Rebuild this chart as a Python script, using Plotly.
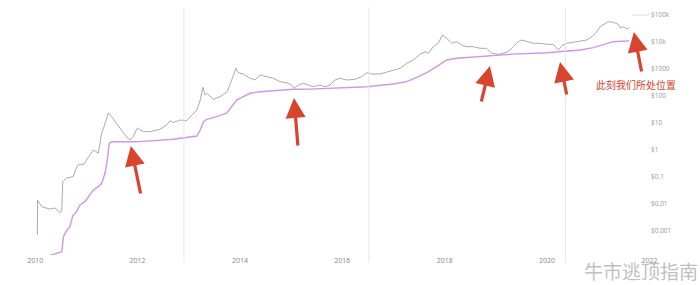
import math
import plotly.graph_objects as go

# ---- data ----
price_dates = [
    "2010-01-17", "2010-01-18", "2010-02-17", "2010-04-17", "2010-05-23", "2010-06-28",
    "2010-07-10", "2010-07-17", "2010-08-14", "2010-09-30", "2010-10-24", "2010-11-17",
    "2010-12-10", "2011-01-27", "2011-02-20", "2011-03-28", "2011-04-21", "2011-05-08",
    "2011-06-08", "2011-07-01", "2011-08-06", "2011-08-29", "2011-10-04", "2011-11-08",
    "2011-12-02", "2011-12-31", "2012-02-12", "2012-04-01", "2012-06-09", "2012-07-27",
    "2012-08-20", "2012-09-13", "2012-10-31", "2012-12-18", "2013-01-23", "2013-02-28",
    "2013-03-24", "2013-04-12", "2013-04-28", "2013-05-10", "2013-06-26", "2013-08-12",
    "2013-10-03", "2013-10-27", "2013-11-15", "2013-12-04", "2013-12-20", "2014-01-25",
    "2014-03-02", "2014-04-19", "2014-05-24", "2014-07-11", "2014-08-27", "2014-10-14",
    "2014-12-01", "2015-01-06", "2015-01-22", "2015-02-22", "2015-03-29", "2015-05-04",
    "2015-06-09", "2015-07-26", "2015-08-31", "2015-10-06", "2015-11-10", "2015-12-16",
    "2016-02-02", "2016-04-01", "2016-05-19", "2016-06-24", "2016-07-29", "2016-09-26",
    "2016-11-24", "2016-12-31", "2017-02-17", "2017-04-06", "2017-05-22", "2017-07-09",
    "2017-08-14", "2017-09-06", "2017-10-12", "2017-11-16", "2017-12-17", "2018-01-15",
    "2018-02-20", "2018-03-27", "2018-05-02", "2018-06-08", "2018-07-25", "2018-09-10",
    "2018-10-27", "2018-12-02", "2019-01-07", "2019-01-18", "2019-02-23", "2019-03-29",
    "2019-05-05", "2019-06-10", "2019-07-04", "2019-08-09", "2019-09-25", "2019-11-12",
    "2019-12-30", "2020-02-15", "2020-03-11", "2020-03-22", "2020-04-16", "2020-05-21",
    "2020-07-07", "2020-08-24", "2020-10-11", "2020-11-16", "2020-12-22", "2021-01-14",
    "2021-02-11", "2021-03-13", "2021-04-18", "2021-05-24", "2021-06-05", "2021-06-28",
    "2021-07-23", "2021-08-10",
]
price_values = [
    0.00071, 0.0141, 0.0079, 0.0065, 0.0071, 0.0048,
    0.0060, 0.067, 0.092, 0.103, 0.24, 0.30,
    0.28, 0.65, 1.0, 0.77, 4.3, 7.3,
    24, 17, 10, 6.5, 3.6, 2.35,
    3.1, 6.5, 4.8, 4.8, 5.8, 8.4,
    12.2, 10.3, 12.9, 12.2, 19.8, 30,
    71, 210, 109, 126, 75, 94,
    144, 295, 519, 1061, 729, 653,
    493, 391, 600, 519, 453, 339,
    311, 255, 193, 255, 295, 255,
    221, 255, 221, 255, 391, 453,
    391, 415, 519, 729, 653, 653,
    794, 918, 1061, 1626, 2154, 3500,
    4374, 3812, 6700, 8950, 18160, 13700,
    8950, 10260, 7740, 6700, 6700, 5850,
    5850, 3812, 3594, 3500, 3812, 4374,
    6700, 10260, 11860, 10260, 8950, 8950,
    8220, 8220, 5850, 5060, 7290, 8950,
    9750, 10900, 11860, 15700, 24050, 36900,
    45300, 56500, 53700, 45300, 33900, 36900,
    30300, 33900,
]

floor_dates = [
    "2010-04-12", "2010-07-10", "2010-07-22", "2010-08-09", "2010-09-06", "2010-09-26",
    "2010-10-24", "2010-11-17", "2010-12-22", "2011-01-27", "2011-02-20", "2011-03-28",
    "2011-04-21", "2011-05-14", "2011-05-31", "2011-06-14", "2011-07-01", "2011-11-08",
    "2012-01-19", "2012-09-13", "2013-01-10", "2013-02-28", "2013-03-24", "2013-04-16",
    "2013-05-10", "2013-07-19", "2013-09-28", "2013-11-15", "2013-12-09", "2014-01-25",
    "2014-03-14", "2014-05-24", "2014-10-14", "2015-01-17", "2015-05-16", "2015-10-28",
    "2016-06-24", "2016-12-31", "2017-04-06", "2017-06-16", "2017-08-26", "2017-11-05",
    "2018-01-15", "2018-03-27", "2018-08-17", "2018-12-14", "2019-01-30", "2019-05-05",
    "2019-12-30", "2020-04-26", "2020-08-24", "2020-11-26", "2021-02-06", "2021-04-18",
    "2021-07-23", "2021-08-10",
]
floor_values = [
    0.000122, 0.000171, 0.000615, 0.00094, 0.00144, 0.0036,
    0.0052, 0.0092, 0.0122, 0.0215, 0.033, 0.0437,
    0.0585, 0.137, 0.426, 1.77, 2.03, 2.03,
    2.05, 2.49, 2.95, 3.3, 5.5, 11.2,
    13.7, 17.1, 22.9, 46, 71, 94,
    126, 144, 167, 177, 180, 193,
    221, 278, 339, 493, 729, 1216,
    2154, 2490, 2855, 3300, 3450, 3550,
    4015, 4374, 5060, 6150, 8220, 10260,
    10900, 11200,
]

halving_dates = ["2012-11-28", "2016-07-09", "2020-05-11"]

x_tick_vals = ["2010-01-01", "2012-01-01", "2014-01-01", "2016-01-01",
               "2018-01-01", "2020-01-01", "2022-01-01"]
x_tick_text = ["2010", "2012", "2014", "2016", "2018", "2020", "2022"]

y_tick_vals = [1e-4, 1e-3, 1e-2, 1e-1, 1, 10, 100, 1000, 1e4, 1e5]
y_tick_text = ["$0.0001", "$0.001", "$0.01", "$0.1", "$1", "$10", "$100",
               "$1000", "$10k", "$100k"]

# arrow tips (date, price) and tail offsets in pixels
arrow_dates = ["2011-11-15", "2015-01-22", "2018-11-20", "2020-04-03", "2021-09-12"]
arrow_prices = [1.41, 84.3, 1291, 1816, 23440]
arrow_dx = [10, 4, -9, 7, 8]
arrow_dy = [49, 49, 37, 34, 41]

note_text = "此刻我们所处位置"
watermark_text = "牛市逃顶指南"

# ---- figure ----
y_min, y_max = -3.889, 5.370
fig = go.Figure()

fig.add_trace(go.Scatter(
    x=price_dates, y=price_values, mode="lines",
    line=dict(color="#ababab", width=1), hoverinfo="skip", showlegend=False))
fig.add_trace(go.Scatter(
    x=floor_dates, y=floor_values, mode="lines",
    line=dict(color="#cf95e8", width=1.4), hoverinfo="skip", showlegend=False))

shapes = []
for d in halving_dates:
    shapes.append(dict(type="line", xref="x", yref="paper", x0=d, x1=d, y0=-0.03, y1=0.99,
                       line=dict(color="#e6e6e6", width=1)))
y_top_paper = (math.log10(y_tick_vals[-1]) - y_min) / (y_max - y_min)
shapes.append(dict(type="line", xref="paper", yref="paper", x0=0.971, x1=1.0,
                   y0=y_top_paper, y1=y_top_paper, line=dict(color="#dddddd", width=1)))

annotations = []
for d, p, dx, dy in zip(arrow_dates, arrow_prices, arrow_dx, arrow_dy):
    annotations.append(dict(
        x=d, y=math.log10(p), xref="x", yref="y", text="", showarrow=True,
        ax=dx, ay=dy, arrowhead=2, arrowsize=1.25, arrowwidth=3.2,
        arrowcolor="#d8442e", standoff=0))
annotations.append(dict(
    x=0.978, y=0.68, xref="paper", yref="paper", text=note_text, showarrow=False,
    xanchor="center", yanchor="middle",
    font=dict(family="Noto Sans CJK SC", size=10, color="#d8442e")))
annotations.append(dict(
    x=0.985, y=-0.06, xref="paper", yref="paper", text=watermark_text, showarrow=False,
    xanchor="center", yanchor="middle",
    font=dict(family="Noto Sans CJK SC", size=19, color="rgba(170,170,170,0.75)")))

fig.update_layout(
    width=700, height=285,
    margin=dict(l=20, r=50, t=5, b=30),
    paper_bgcolor="white", plot_bgcolor="white",
    font=dict(family="Open Sans", color="#888888"),
    shapes=shapes, annotations=annotations,
    xaxis=dict(type="date", range=["2009-09-15", "2022-01-05"],
               tickvals=x_tick_vals, ticktext=x_tick_text,
               showgrid=False, zeroline=False, showline=False, ticks="",
               tickfont=dict(size=7, color="#888888")),
    yaxis=dict(type="log", range=[y_min, y_max], side="right",
               tickvals=y_tick_vals, ticktext=y_tick_text,
               showgrid=False, zeroline=False, showline=False, ticks="",
               tickfont=dict(size=6.5, color="#999999")),
)

fig.write_html("out.html")
